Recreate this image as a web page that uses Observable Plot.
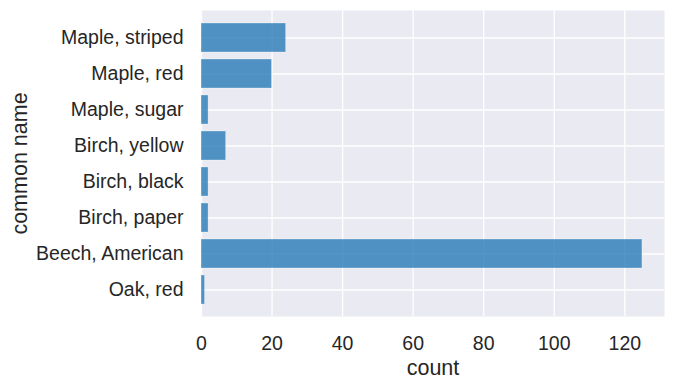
<!DOCTYPE html>
<html>
<head>
<meta charset="utf-8">
<script src="https://cdn.jsdelivr.net/npm/d3@7"></script>
<script src="https://cdn.jsdelivr.net/npm/@observablehq/plot@0.6"></script>
<style>
  html, body { margin: 0; padding: 0; background: #fff; }
  #chart svg { display: block; }
  #chart text { fill: #262626; }
</style>
</head>
<body>
<div id="chart"></div>
<script>
const names = ["Maple, striped", "Maple, red", "Maple, sugar", "Birch, yellow", "Birch, black", "Birch, paper", "Beech, American", "Oak, red"];
const counts = [24, 20, 2, 7, 2, 2, 125, 1];
const xTicks = [0, 20, 40, 60, 80, 100, 120];

const data = names.map((name, i) => ({name, count: counts[i]}));
const font = "'Liberation Sans', Arial, sans-serif";

const chart = Plot.plot({
  width: 675,
  height: 388,
  marginTop: 10,
  marginRight: 11,
  marginBottom: 72,
  marginLeft: 201,
  style: {fontFamily: font, fontSize: "19.5px", color: "#262626", background: "#fff"},
  x: {domain: [0, 131.25]},
  y: {domain: names, paddingInner: 0.2, paddingOuter: 0.35},
  marks: [
    Plot.frame({fill: "#EAEAF2", stroke: null}),
    Plot.gridX(xTicks, {stroke: "#fff", strokeOpacity: 1, strokeWidth: 1.3}),
    Plot.gridY(names, {stroke: "#fff", strokeOpacity: 1, strokeWidth: 1.3}),
    Plot.barX(data, {y: "name", x: "count", fill: "#1f77b4", fillOpacity: 0.77, stroke: "#fff", strokeOpacity: 0.5, strokeWidth: 0.6}),
    Plot.axisX(xTicks, {tickSize: 0, tickPadding: 20, label: null, fontSize: 19.5}),
    Plot.axisX([], {label: "count", labelArrow: false, labelAnchor: "center", labelOffset: 58, fontSize: 21.5}),
    Plot.axisY(names, {tickSize: 0, tickPadding: 18, label: null, fontSize: 19.5}),
    Plot.axisY([], {label: "common name", labelArrow: false, labelAnchor: "center", labelOffset: 190, fontSize: 21.5})
  ]
});
document.getElementById("chart").appendChild(chart);
</script>
</body>
</html>
